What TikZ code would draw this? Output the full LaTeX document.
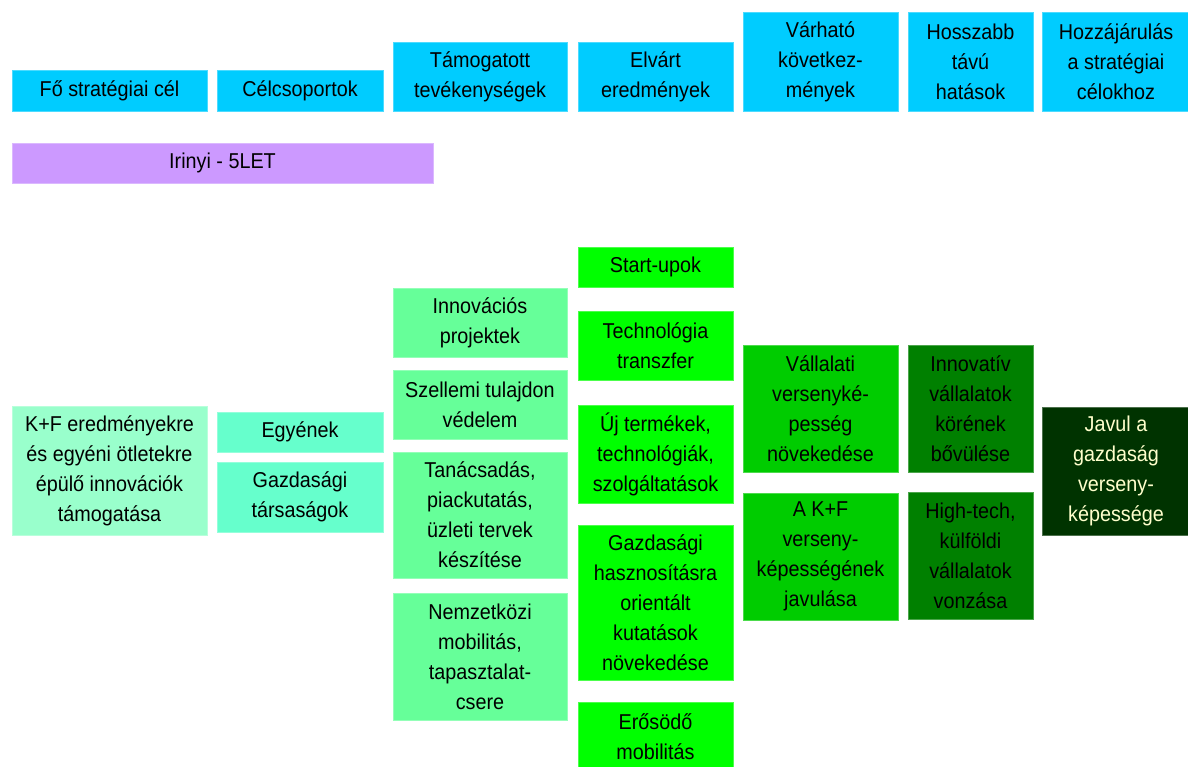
\documentclass[tikz,border=0pt]{standalone}
\usepackage{fontspec}
\setmainfont{Liberation Sans}[FakeStretch=0.92]
\definecolor{hdrc}{HTML}{00CCFF}
\definecolor{irc}{HTML}{CC99FF}
\definecolor{goalc}{HTML}{99FFCC}
\definecolor{grpc}{HTML}{66FFCC}
\definecolor{actc}{HTML}{66FF99}
\definecolor{resc}{HTML}{00FF00}
\definecolor{consc}{HTML}{00CC00}
\definecolor{longc}{HTML}{008000}
\definecolor{contc}{HTML}{003300}
\definecolor{creamc}{HTML}{FFFFCC}
\begin{document}
\begin{tikzpicture}[x=1pt,y=-1pt,
  bx/.style={rectangle, inner sep=0pt, align=center, line width=0.8pt,
    font=\fontsize{21.5}{30}\selectfont},
  hdr/.style={bx, fill=hdrc, draw=hdrc!70!white},
  irinyi/.style={bx, fill=irc, draw=irc!70!white},
  goal/.style={bx, fill=goalc, draw=goalc!70!white},
  grp/.style={bx, fill=grpc, draw=grpc!70!white},
  act/.style={bx, fill=actc, draw=actc!70!white, minimum width=174pt},
  res/.style={bx, fill=resc, draw=resc!70!white, minimum width=155pt},
  cons/.style={bx, fill=consc, draw=consc!70!white, minimum width=155pt, minimum height=127pt},
  lng/.style={bx, fill=longc, draw=longc!70!white, minimum width=125pt, minimum height=127pt},
  cont/.style={bx, fill=contc, draw=contc!70!white, text=creamc}]
\useasboundingbox (0,0) rectangle (1188,767);
\clip (0,0) rectangle (1188,767);
% header row
\node[hdr, minimum width=195pt, minimum height=41pt] (h1) at (109.5,90.5) {Fő stratégiai cél};
\node[hdr, minimum width=166pt, minimum height=41pt] (h2) at (300,90.5) {Célcsoportok};
\node[hdr, minimum width=174pt, minimum height=69pt] (h3) at (480,76.5) {Támogatott\\tevékenységek};
\node[hdr, minimum width=155pt, minimum height=69pt] (h4) at (655.5,76.5) {Elvárt\\eredmények};
\node[hdr, minimum width=155pt, minimum height=99pt] (h5) at (820.5,61.5) {Várható\\következ-\\mények};
\node[hdr, minimum width=125pt, minimum height=99pt] (h6) at (970.5,61.5) {Hosszabb\\távú\\hatások};
\node[hdr, minimum width=148pt, minimum height=99pt] (h7) at (1116,61.5) {Hozzájárulás\\a stratégiai\\célokhoz};
% programme
\node[irinyi, minimum width=421pt, minimum height=40pt] (ir) at (222.5,163) {Irinyi - 5LET};
% column 1
\node[goal, minimum width=195pt, minimum height=129pt] (k1) at (109.5,470.5) {K+F eredményekre\\és egyéni ötletekre\\épülő innovációk\\támogatása};
% column 2
\node[grp, minimum width=166pt, minimum height=40pt] (c1) at (300,432) {Egyének};
\node[grp, minimum width=166pt, minimum height=70pt] (c2) at (300,497) {Gazdasági\\társaságok};
% column 3
\node[act, minimum height=69pt] (t1) at (480,322.5) {Innovációs\\projektek};
\node[act, minimum height=69pt] (t2) at (480,404.5) {Szellemi tulajdon\\védelem};
\node[act, minimum height=126pt] (t3) at (480,515) {Tanácsadás,\\piackutatás,\\üzleti tervek\\készítése};
\node[act, minimum height=127pt] (t4) at (480,656.5) {Nemzetközi\\mobilitás,\\tapasztalat-\\csere};
% column 4
\node[res, minimum height=40pt] (e1) at (655.5,267) {Start-upok};
\node[res, minimum height=69pt] (e2) at (655.5,345.5) {Technológia\\transzfer};
\node[res, minimum height=98pt] (e3) at (655.5,454) {Új termékek,\\technológiák,\\szolgáltatások};
\node[res, minimum height=155pt] (e4) at (655.5,602.5) {Gazdasági\\hasznosításra\\orientált\\kutatások\\növekedése};
\node[res, minimum height=69pt] (e5) at (655.5,736.5) {Erősödő\\mobilitás};
% column 5
\node[cons] (v1) at (820.5,408.5) {Vállalati\\versenyké-\\pesség\\növekedése};
\node[cons] (v2) at (820.5,556.5) {A K+F\\verseny-\\képességének\\javulása};
% column 6
\node[lng] (l1) at (970.5,408.5) {Innovatív\\vállalatok\\körének\\bővülése};
\node[lng] (l2) at (970.5,555.5) {High-tech,\\külföldi\\vállalatok\\vonzása};
% column 7
\node[cont, minimum width=148pt, minimum height=128pt] (j1) at (1116,471) {Javul a\\gazdaság\\verseny-\\képessége};
\end{tikzpicture}
\end{document}
